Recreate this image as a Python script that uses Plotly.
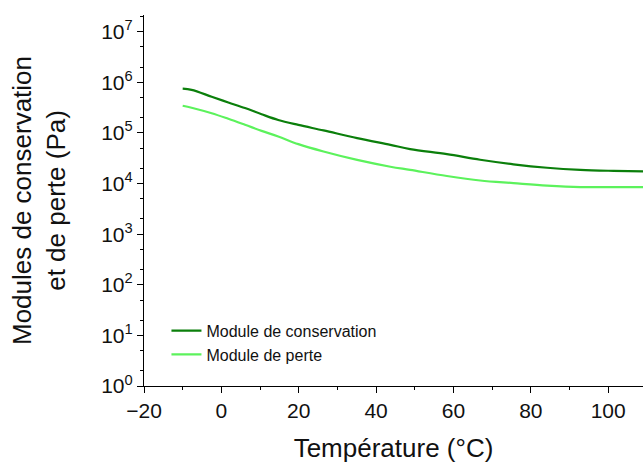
import plotly.graph_objects as go

temperature = [-10, -7.7, -2.5, 1.8, 6.1, 10.4, 14.7, 19.9, 26.4, 35.1, 43.7, 48.8,
               58.3, 66.9, 75.5, 84.2, 92.8, 101.4, 109]
module_conservation = [7.5e5, 7.1e5, 5.2e5, 4.0e5, 3.1e5, 2.34e5, 1.8e5, 1.44e5, 1.12e5,
                       7.9e4, 5.8e4, 4.8e4, 3.8e4, 2.95e4, 2.4e4, 2.05e4, 1.86e4, 1.78e4, 1.74e4]
module_perte = [3.45e5, 3.15e5, 2.45e5, 1.9e5, 1.45e5, 1.1e5, 8.5e4, 6.0e4, 4.3e4,
                2.93e4, 2.15e4, 1.86e4, 1.41e4, 1.15e4, 1.02e4, 9.1e3, 8.5e3, 8.5e3, 8.5e3]

y_tickvals = [1, 10, 100, 1e3, 1e4, 1e5, 1e6, 1e7]
y_ticktext = ["10<sup>0</sup>", "10<sup>1</sup>", "10<sup>2</sup>", "10<sup>3</sup>",
              "10<sup>4</sup>", "10<sup>5</sup>", "10<sup>6</sup>", "10<sup>7</sup>"]
x_tickvals = [-20, 0, 20, 40, 60, 80, 100]

font_family = "Liberation Sans, Arial, sans-serif"

fig = go.Figure()
fig.add_trace(go.Scatter(x=temperature, y=module_conservation, mode="lines",
                         name="Module de conservation",
                         line=dict(color="#0b7f0b", width=2.2, shape="spline")))
fig.add_trace(go.Scatter(x=temperature, y=module_perte, mode="lines",
                         name="Module de perte",
                         line=dict(color="#5cf25c", width=2.2, shape="spline")))

fig.update_layout(
    width=643, height=463,
    margin=dict(l=144, r=0, t=15, b=77),
    paper_bgcolor="white", plot_bgcolor="white",
    font=dict(family=font_family, color="#111111"),
    showlegend=True,
    legend=dict(x=0.045, y=0.195, xanchor="left", yanchor="top",
                bgcolor="rgba(0,0,0,0)", font=dict(size=16, family=font_family),
                tracegroupgap=0, itemwidth=30),
)
fig.update_xaxes(
    range=[-20, 109], tickvals=x_tickvals, showgrid=False, zeroline=False,
    showline=True, linecolor="black", linewidth=1.2, mirror=False,
    ticks="outside", ticklen=6, tickcolor="black", automargin=False,
    minor=dict(ticks="outside", ticklen=3, dtick=10, tickcolor="black", showgrid=False),
    tickfont=dict(size=21),
    title=dict(text="Température (°C)", font=dict(size=26), standoff=18),
)
fig.update_yaxes(
    type="log", range=[0, 7.33], tickvals=y_tickvals, ticktext=y_ticktext,
    showgrid=False, zeroline=False,
    showline=True, linecolor="black", linewidth=1.2, mirror=False,
    ticks="outside", ticklen=6, tickcolor="black", automargin=False,
    minor=dict(ticks="outside", ticklen=3, tickcolor="black", showgrid=False),
    tickfont=dict(size=21),
    title=dict(text="Modules de conservation<br>et de perte (Pa)", font=dict(size=26), standoff=28),
)

fig.write_html("out.html", config={"displayModeBar": False},
               post_script="document.body.style.margin='0';document.body.style.overflow='hidden';")
